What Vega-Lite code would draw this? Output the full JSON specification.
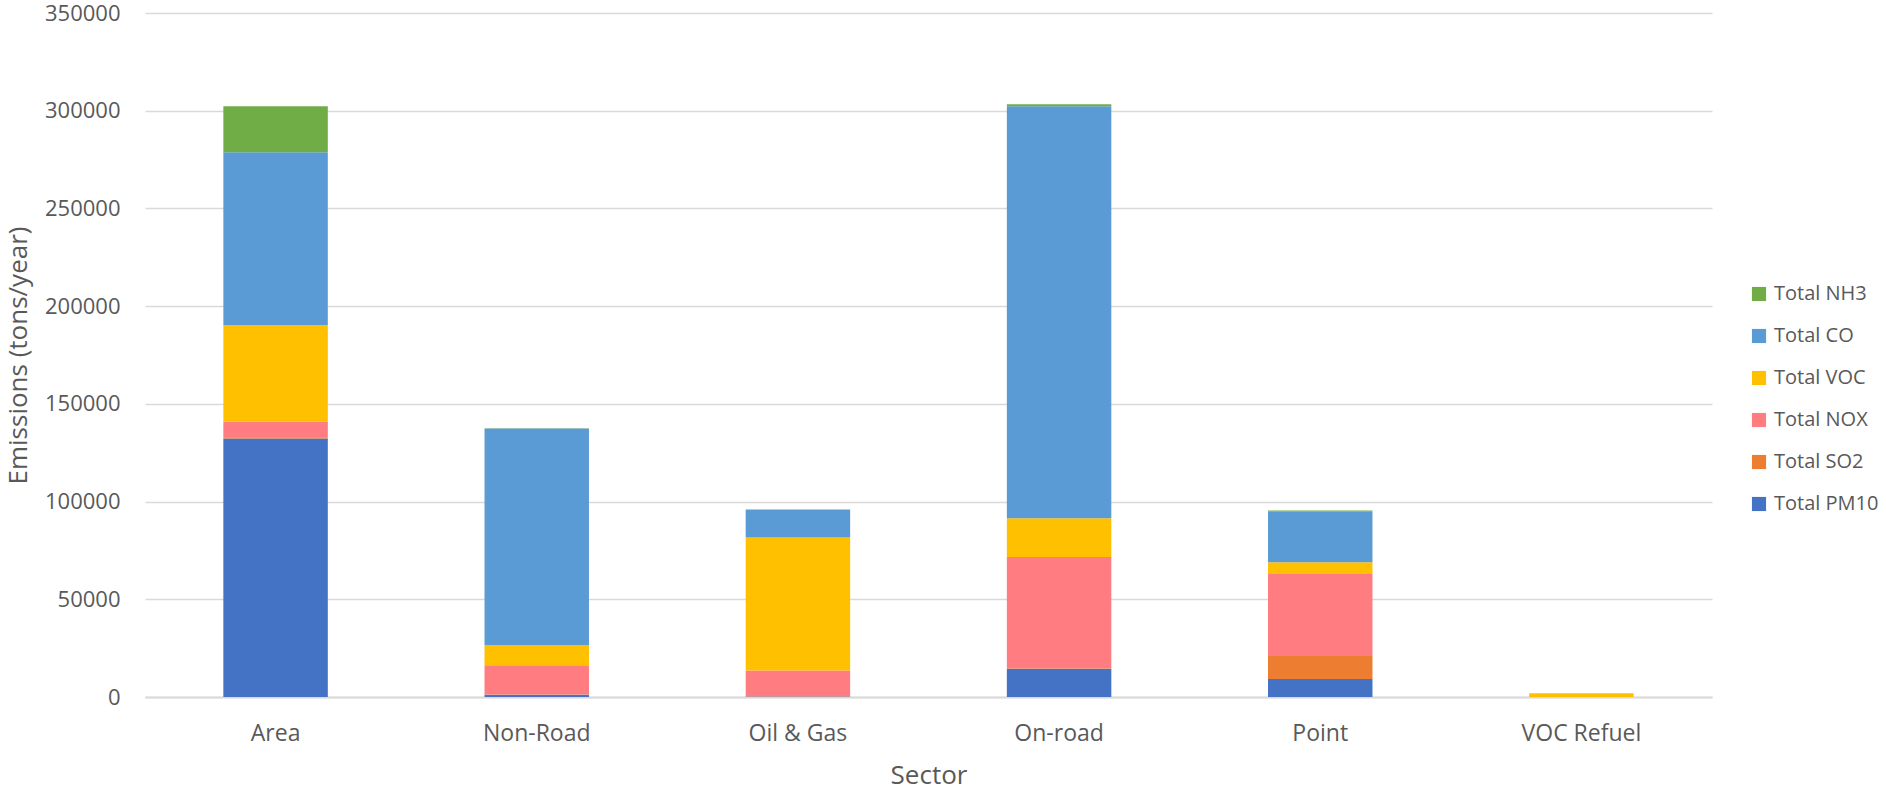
{
  "$schema": "https://vega.github.io/schema/vega-lite/v6.json",
  "autosize": "none",
  "width": 1567,
  "height": 684,
  "padding": {"left": 145, "top": 13, "right": 174, "bottom": 96},
  "background": "#ffffff",
  "config": {
    "view": {"stroke": null},
    "font": "Open Sans",
    "axis": {"labelColor": "#595959", "titleColor": "#595959", "labelFont": "Open Sans", "titleFont": "Open Sans", "titleFontWeight": "normal"},
    "legend": {"labelColor": "#595959", "labelFont": "Open Sans"}
  },
  "data": {
    "values": [
      {"Sector": "Area", "Pollutant": "Total PM10", "Emissions": 132300},
      {"Sector": "Area", "Pollutant": "Total SO2", "Emissions": 600},
      {"Sector": "Area", "Pollutant": "Total NOX", "Emissions": 8000},
      {"Sector": "Area", "Pollutant": "Total VOC", "Emissions": 49400},
      {"Sector": "Area", "Pollutant": "Total CO", "Emissions": 88500},
      {"Sector": "Area", "Pollutant": "Total NH3", "Emissions": 23500},
      {"Sector": "Non-Road", "Pollutant": "Total PM10", "Emissions": 1200},
      {"Sector": "Non-Road", "Pollutant": "Total SO2", "Emissions": 50},
      {"Sector": "Non-Road", "Pollutant": "Total NOX", "Emissions": 15000},
      {"Sector": "Non-Road", "Pollutant": "Total VOC", "Emissions": 10200},
      {"Sector": "Non-Road", "Pollutant": "Total CO", "Emissions": 111000},
      {"Sector": "Non-Road", "Pollutant": "Total NH3", "Emissions": 100},
      {"Sector": "Oil & Gas", "Pollutant": "Total PM10", "Emissions": 300},
      {"Sector": "Oil & Gas", "Pollutant": "Total SO2", "Emissions": 100},
      {"Sector": "Oil & Gas", "Pollutant": "Total NOX", "Emissions": 13100},
      {"Sector": "Oil & Gas", "Pollutant": "Total VOC", "Emissions": 68100},
      {"Sector": "Oil & Gas", "Pollutant": "Total CO", "Emissions": 14400},
      {"Sector": "Oil & Gas", "Pollutant": "Total NH3", "Emissions": 0},
      {"Sector": "On-road", "Pollutant": "Total PM10", "Emissions": 14400},
      {"Sector": "On-road", "Pollutant": "Total SO2", "Emissions": 300},
      {"Sector": "On-road", "Pollutant": "Total NOX", "Emissions": 57000},
      {"Sector": "On-road", "Pollutant": "Total VOC", "Emissions": 19800},
      {"Sector": "On-road", "Pollutant": "Total CO", "Emissions": 210800},
      {"Sector": "On-road", "Pollutant": "Total NH3", "Emissions": 1000},
      {"Sector": "Point", "Pollutant": "Total PM10", "Emissions": 9200},
      {"Sector": "Point", "Pollutant": "Total SO2", "Emissions": 11800},
      {"Sector": "Point", "Pollutant": "Total NOX", "Emissions": 41900},
      {"Sector": "Point", "Pollutant": "Total VOC", "Emissions": 6000},
      {"Sector": "Point", "Pollutant": "Total CO", "Emissions": 26100},
      {"Sector": "Point", "Pollutant": "Total NH3", "Emissions": 400},
      {"Sector": "VOC Refuel", "Pollutant": "Total PM10", "Emissions": 0},
      {"Sector": "VOC Refuel", "Pollutant": "Total SO2", "Emissions": 0},
      {"Sector": "VOC Refuel", "Pollutant": "Total NOX", "Emissions": 0},
      {"Sector": "VOC Refuel", "Pollutant": "Total VOC", "Emissions": 1900},
      {"Sector": "VOC Refuel", "Pollutant": "Total CO", "Emissions": 0},
      {"Sector": "VOC Refuel", "Pollutant": "Total NH3", "Emissions": 0}
    ]
  },
  "transform": [
    {"calculate": "indexof(['Total PM10','Total SO2','Total NOX','Total VOC','Total CO','Total NH3'], datum.Pollutant)", "as": "StackOrder"}
  ],
  "mark": {"type": "bar"},
  "encoding": {
    "x": {
      "field": "Sector",
      "type": "nominal",
      "sort": ["Area", "Non-Road", "Oil & Gas", "On-road", "Point", "VOC Refuel"],
      "scale": {"paddingInner": 0.6, "paddingOuter": 0.3},
      "axis": {
        "title": "Sector",
        "labelAngle": 0,
        "labelFontSize": 23,
        "labelPadding": 25,
        "ticks": false,
        "domainColor": "#D9D9D9",
        "domainWidth": 2,
        "titleFontSize": 26,
        "titleBaseline": "alphabetic",
        "titleY": 86
      }
    },
    "y": {
      "field": "Emissions",
      "type": "quantitative",
      "stack": "zero",
      "scale": {"domain": [0, 350000], "nice": false},
      "axis": {
        "title": "Emissions (tons/year)",
        "values": [0, 50000, 100000, 150000, 200000, 250000, 300000, 350000],
        "format": "d",
        "labelFontSize": 22,
        "labelPadding": 25,
        "ticks": false,
        "domain": false,
        "gridColor": "#D9D9D9",
        "gridWidth": 1.3,
        "titleFontSize": 26,
        "titleAngle": -90,
        "titleX": -127,
        "titleY": 342,
        "titleAlign": "center",
        "titleBaseline": "middle"
      }
    },
    "order": {"field": "StackOrder", "type": "quantitative", "sort": "ascending"},
    "color": {
      "field": "Pollutant",
      "type": "nominal",
      "sort": ["Total NH3", "Total CO", "Total VOC", "Total NOX", "Total SO2", "Total PM10"],
      "scale": {
        "domain": ["Total NH3", "Total CO", "Total VOC", "Total NOX", "Total SO2", "Total PM10"],
        "range": ["#70AD47", "#5B9BD5", "#FFC000", "#FF7C80", "#ED7D31", "#4472C4"]
      },
      "legend": {
        "title": null,
        "orient": "none",
        "legendX": 1604,
        "legendY": 271,
        "symbolType": "square",
        "symbolSize": 200,
        "symbolStrokeWidth": 0,
        "labelFontSize": 20,
        "labelOffset": 5,
        "rowPadding": 22
      }
    }
  }
}
